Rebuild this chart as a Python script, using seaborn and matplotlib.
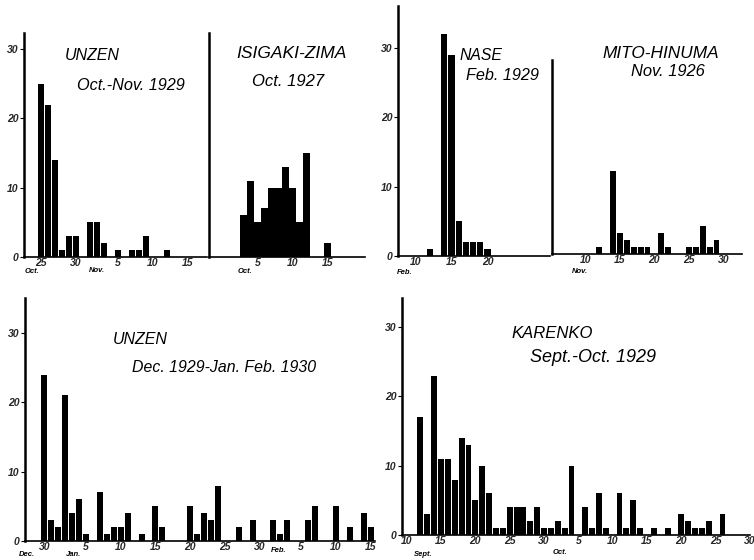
import matplotlib
matplotlib.use("Agg")
import matplotlib.pyplot as plt
import seaborn as sns
from matplotlib import font_manager

# ---------------- data (day index, counts) ----------------
# Panel 1: UNZEN Oct.-Nov. 1929  (day index: Oct 25 = 25, Nov 1 = 32)
unzen1_days = [25, 26, 27, 28, 29, 30, 32, 33, 34, 36, 38, 39, 40, 43]
unzen1_counts = [25, 22, 14, 1, 3, 3, 5, 5, 2, 1, 1, 1, 3, 1]
unzen1_ticks = [25, 30, 36, 41, 46]
unzen1_ticklabels = ["25", "30", "5", "10", "15"]

# Panel 2: ISIGAKI-ZIMA Oct. 1927
isigaki_days = [3, 4, 5, 6, 7, 8, 9, 10, 11, 12, 15]
isigaki_counts = [6, 11, 5, 7, 10, 10, 13, 10, 5, 15, 2]
isigaki_ticks = [5, 10, 15]
isigaki_ticklabels = ["5", "10", "15"]

# Panel 3: NASE Feb. 1929
nase_days = [12, 14, 15, 16, 17, 18, 19, 20]
nase_counts = [1, 32, 29, 5, 2, 2, 2, 1]
nase_ticks = [10, 15, 20]
nase_ticklabels = ["10", "15", "20"]

# Panel 4: MITO-HINUMA Nov. 1926
mito_days = [12, 14, 15, 16, 17, 18, 19, 21, 22, 25, 26, 27, 28, 29]
mito_counts = [1, 12, 3, 2, 1, 1, 1, 3, 1, 1, 1, 4, 1, 2]
mito_ticks = [10, 15, 20, 25, 30]
mito_ticklabels = ["10", "15", "20", "25", "30"]

# Panel 5: UNZEN Dec. 1929 - Jan. Feb. 1930 (day index: Dec 30 = 0)
unzen2_days = [0, 1, 2, 3, 4, 5, 6, 8, 9, 10, 11, 12, 14, 16, 17, 21, 22, 23,
               24, 25, 28, 30, 33, 34, 35, 38, 39, 42, 44, 46, 47]
unzen2_counts = [24, 3, 2, 21, 4, 6, 1, 7, 1, 2, 2, 4, 1, 5, 2, 5, 1, 4,
                 3, 8, 2, 3, 3, 1, 3, 3, 5, 5, 2, 4, 2]
unzen2_ticks = [0, 6, 11, 16, 21, 26, 31, 37, 42, 47]
unzen2_ticklabels = ["30", "5", "10", "15", "20", "25", "30", "5", "10", "15"]

# Panel 6: KARENKO Sept.-Oct. 1929 (day index: Sept 1 = 1, Oct 1 = 31)
karenko_days = [12, 13, 14, 15, 16, 17, 18, 19, 20, 21, 22, 23, 24, 25, 26, 27,
                28, 29, 30, 31, 32, 33, 34, 36, 37, 38, 39, 41, 42, 43, 44, 46,
                48, 50, 51, 52, 53, 54, 56]
karenko_counts = [17, 3, 23, 11, 11, 8, 14, 13, 5, 10, 6, 1, 1, 4, 4, 4,
                  2, 4, 1, 1, 2, 1, 10, 4, 1, 6, 1, 6, 1, 5, 1, 1,
                  1, 3, 2, 1, 1, 2, 3]
karenko_ticks = [10, 15, 20, 25, 30, 35, 40, 45, 50, 55, 60]
karenko_ticklabels = ["10", "15", "20", "25", "30", "5", "10", "15", "20", "25", "30"]

y_ticks = [0, 10, 20, 30]

# ---------------- style ----------------
sns.set_theme(style="white")
names = {f.name for f in font_manager.fontManager.ttflist}
if "Liberation Sans Narrow" in names:
    FAM = "Liberation Sans Narrow"
elif "DejaVu Sans Condensed" in names:
    FAM = "DejaVu Sans Condensed"
else:
    FAM = "Liberation Sans"
plt.rcParams["font.family"] = [FAM, "DejaVu Sans"]

W, H = 754, 560
PPU = 6.93  # pixels per count unit
fig = plt.figure(figsize=(W / 100, H / 100), dpi=100)
fig.patch.set_facecolor("white")
renderer = fig.canvas.get_renderer()

# layout: (left px, right px, top px, baseline px, ref day, ref px, px per day)
panels = [
    (unzen1_days, unzen1_counts, unzen1_ticks, unzen1_ticklabels, True,
     (24, 207, 33, 257, 25, 41.0, 7.0)),
    (isigaki_days, isigaki_counts, isigaki_ticks, isigaki_ticklabels, False,
     (209, 365, 33, 257, 5, 257.5, 7.0)),
    (nase_days, nase_counts, nase_ticks, nase_ticklabels, True,
     (398, 550, 6, 256, 15, 451.5, 7.22)),
    (mito_days, mito_counts, mito_ticks, mito_ticklabels, False,
     (552, 742, 60, 254, 14, 613.0, 6.9)),
    (unzen2_days, unzen2_counts, unzen2_ticks, unzen2_ticklabels, True,
     (25, 375, 298, 541, 0, 44.4, 6.94)),
    (karenko_days, karenko_counts, karenko_ticks, karenko_ticklabels, True,
     (402, 750, 298, 535, 12, 420.7, 6.966)),
]

for days, counts, ticks, labels, show_y, (lft, rgt, top, base, dref, xref, ppd) in panels:
    ax = fig.add_axes([lft / W, 1 - base / H, (rgt - lft) / W, (base - top) / H])
    ax.patch.set_alpha(0)
    sns.histplot(x=days, weights=counts, discrete=True, shrink=0.86,
                 color="black", alpha=1, linewidth=0, ax=ax)
    ax.set_xlim(dref - (xref - lft) / ppd, dref + (rgt - xref) / ppd)
    ax.set_ylim(0, (base - top) / PPU)
    ax.set_xlabel("")
    ax.set_ylabel("")
    for s in ["top", "right"]:
        ax.spines[s].set_visible(False)
    ax.spines["left"].set_linewidth(1.8)
    ax.spines["bottom"].set_linewidth(1.2)
    ax.spines["left"].set_color("black")
    ax.spines["bottom"].set_color("black")
    ax.set_xticks(ticks)
    ax.set_xticklabels(labels, fontsize=7.5, style="italic", weight="bold")
    ax.tick_params(axis="x", length=0, pad=1.0)
    if show_y:
        ax.set_yticks(y_ticks)
        ax.set_yticklabels([str(v) for v in y_ticks], fontsize=7.5,
                           style="italic", weight="bold")
        ax.tick_params(axis="y", length=3, width=0.8, direction="out",
                       pad=1, left=True, color="black")
    else:
        ax.set_yticks([])
    ax.grid(False)


def fit_text(x, y, s, width):
    t = fig.text(x / W, 1 - y / H, s, fontsize=12, ha="left", va="center",
                 style="italic", color="black")
    bb = t.get_window_extent(renderer)
    t.set_fontsize(12 * width / bb.width)
    return t


titles = [
    ("UNZEN", 65, 55, 55), ("Oct.-Nov. 1929", 77, 86, 108),
    ("ISIGAKI-ZIMA", 236, 53, 110), ("Oct. 1927", 252, 82, 72),
    ("NASE", 460, 55, 43), ("Feb. 1929", 466, 75, 73),
    ("MITO-HINUMA", 602, 53, 116), ("Nov. 1926", 631, 72, 74),
    ("UNZEN", 113, 340, 55), ("Dec. 1929-Jan. Feb. 1930", 132, 367, 184),
    ("KARENKO", 511, 333, 81), ("Sept.-Oct. 1929", 530, 358, 126),
]
for s, x, y, w in titles:
    fit_text(x, y, s, w)

months = [
    ("Oct.", 32, 271), ("Nov.", 97, 270), ("Oct.", 245, 271), ("Feb.", 405, 273),
    ("Nov.", 580, 271), ("Dec.", 27, 555), ("Jan.", 74, 555), ("Feb.", 279, 551),
    ("Sept.", 423, 554), ("Oct.", 560, 553),
]
for s, x, y in months:
    fig.text(x / W, 1 - y / H, s, fontsize=5.5, ha="center", va="center",
             style="italic", weight="bold", color="black")

fig.savefig("out.png", dpi=100)
